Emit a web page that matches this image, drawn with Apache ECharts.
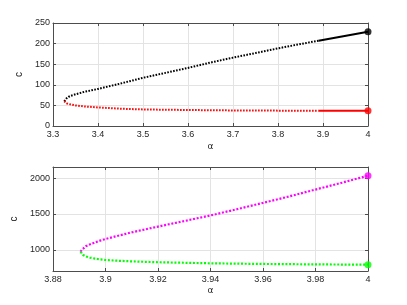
<!DOCTYPE html>
<html><head><meta charset="utf-8">
<script src="https://cdn.jsdelivr.net/npm/echarts@6/dist/echarts.min.js"></script>
<style>html,body{margin:0;padding:0;background:#fff}#c{width:407px;height:305px}</style>
</head><body><div id="c"></div>
<script>
// ---- data ----
// top panel, upper branch (black), dotted part
const topUpperAlpha = [3.325, 3.327, 3.33, 3.335, 3.34, 3.35, 3.37, 3.4, 3.45, 3.5, 3.55, 3.6, 3.65, 3.7, 3.75, 3.8, 3.85, 3.89];
const topUpperC     = [60, 64, 67, 71, 73.5, 77, 83, 90, 103, 117, 129, 141, 154, 166, 177, 188.5, 199, 207];
// top panel, lower branch (red), dotted part
const topLowerAlpha = [3.325, 3.327, 3.33, 3.34, 3.35, 3.37, 3.4, 3.45, 3.5, 3.6, 3.7, 3.8, 3.89];
const topLowerC     = [60, 56.5, 55, 52, 50, 47.5, 45, 42, 40.2, 38.8, 37.8, 37.3, 37.1];
// top panel, solid segments
const topSolidAlpha = [3.89, 3.945, 4];
const topSolidUpperC = [207, 218, 228.5];
const topSolidLowerC = [37.1, 37.0, 37.0];
// bottom panel, upper branch (magenta)
const botUpperAlpha = [3.8905, 3.891, 3.8915, 3.8925, 3.894, 3.896, 3.898, 3.9, 3.904, 3.91, 3.92, 3.93, 3.94, 3.95, 3.96, 3.97, 3.98, 3.99, 4];
const botUpperC     = [975, 1003, 1025, 1050, 1076, 1105, 1130, 1152, 1190, 1245, 1325, 1402, 1480, 1566, 1655, 1745, 1840, 1935, 2033];
// bottom panel, lower branch (green)
const botLowerAlpha = [3.8905, 3.891, 3.8915, 3.8925, 3.894, 3.896, 3.898, 3.9, 3.905, 3.91, 3.92, 3.94, 3.96, 3.98, 4];
const botLowerC     = [975, 950, 930, 910, 894, 879, 868, 860, 849, 841, 829, 814, 805, 799, 795];
// ticks
const topXTicks = {min: 3.3, max: 4, interval: 0.1};
const topYTicks = {min: 0, max: 250, interval: 50};
const botXTicks = {min: 3.88, max: 4, interval: 0.02};
const botYRange = {min: 707, max: 2154};
const botYTickValues = [1000, 1500, 2000];

const zip = (a, b) => a.map((v, i) => [v, b[i]]);
const last = (a, b) => [[a[a.length - 1], b[b.length - 1]]];

const FONT = 'Liberation Sans, Arial, sans-serif';
const AX = '#4d4d4d', TXT = '#262626', GRID = '#e3e3e3';

function xAxis(gi, t, primary, gap) {
  return {
    type: 'value', gridIndex: gi, min: t.min, max: t.max, interval: t.interval,
    position: primary ? 'bottom' : 'top',
    name: primary ? 'α' : '', nameLocation: 'middle', nameGap: gap,
    nameTextStyle: {fontFamily: 'DejaVu Sans', fontSize: 9, color: TXT},
    axisLine: {show: true, onZero: false, lineStyle: {color: AX, width: 1}},
    axisTick: {show: true, inside: true, length: 3, lineStyle: {color: AX}},
    axisLabel: {show: primary, fontFamily: FONT, fontSize: 9, color: TXT, margin: 4},
    splitLine: {show: primary, lineStyle: {color: GRID, width: 1}}
  };
}
function yAxis(gi, t, primary, gap, custom) {
  const ax = {
    type: 'value', gridIndex: gi, min: t.min, max: t.max,
    position: primary ? 'left' : 'right',
    name: primary ? 'c' : '', nameLocation: 'middle', nameGap: gap, nameRotate: 90,
    nameTextStyle: {fontFamily: FONT, fontSize: 10, color: TXT},
    axisLine: {show: true, onZero: false, lineStyle: {color: AX, width: 1}},
    axisTick: {show: true, inside: true, length: 3, lineStyle: {color: AX}},
    axisLabel: {show: primary, fontFamily: FONT, fontSize: 9, color: TXT, margin: 3,
      formatter: v => String(Math.round(v))},
    splitLine: {show: primary, lineStyle: {color: GRID, width: 1}}
  };
  if (custom) {
    ax.axisTick.customValues = custom;
    ax.axisLabel.customValues = custom;
  } else {
    ax.interval = t.interval;
  }
  return ax;
}

function dotted(name, xi, yi, data, color, w, dash) {
  return {type: 'line', name, xAxisIndex: xi, yAxisIndex: yi, data, showSymbol: false, symbol: 'none',
    lineStyle: {color, width: w, type: dash}, z: 3, animation: false};
}
function solid(name, xi, yi, data, color) {
  return {type: 'line', name, xAxisIndex: xi, yAxisIndex: yi, data, showSymbol: false, symbol: 'none',
    lineStyle: {color, width: 2}, z: 4, animation: false};
}
function endDot(name, xi, yi, data, color) {
  return {type: 'scatter', name, xAxisIndex: xi, yAxisIndex: yi, data, symbolSize: 7,
    itemStyle: {color}, z: 5, animation: false};
}

const chart = echarts.init(document.getElementById('c'), null, {renderer: 'canvas'});
chart.setOption({
  animation: false,
  backgroundColor: '#fff',
  grid: [
    {left: 53, right: 39, top: 23, height: 103, containLabel: false},
    {left: 53, right: 39, top: 167, height: 104, containLabel: false}
  ],
  xAxis: [
    xAxis(0, topXTicks, true, 16),
    xAxis(0, topXTicks, false, 0),
    xAxis(1, botXTicks, true, 15),
    xAxis(1, botXTicks, false, 0)
  ],
  yAxis: [
    yAxis(0, topYTicks, true, 20),
    yAxis(0, topYTicks, false, 0),
    yAxis(1, botYRange, true, 28, botYTickValues),
    yAxis(1, botYRange, false, 0, botYTickValues)
  ],
  series: [
    dotted('upper', 0, 0, zip(topUpperAlpha, topUpperC), '#000000', 2, [1.6, 1.4]),
    dotted('lower', 0, 0, zip(topLowerAlpha, topLowerC), '#ff0000', 2, [1.6, 1.4]),
    solid('upperSolid', 0, 0, zip(topSolidAlpha, topSolidUpperC), '#000000'),
    solid('lowerSolid', 0, 0, zip(topSolidAlpha, topSolidLowerC), '#ff0000'),
    endDot('upperEnd', 0, 0, last(topSolidAlpha, topSolidUpperC), '#000000'),
    endDot('lowerEnd', 0, 0, last(topSolidAlpha, topSolidLowerC), '#ff0000'),
    dotted('bUpper', 2, 2, zip(botUpperAlpha, botUpperC), '#ff00ff', 2.2, [2, 1.7]),
    dotted('bLower', 2, 2, zip(botLowerAlpha, botLowerC), '#00ff00', 2.2, [2, 1.7]),
    endDot('bUpperEnd', 2, 2, last(botUpperAlpha, botUpperC), '#ff00ff'),
    endDot('bLowerEnd', 2, 2, last(botLowerAlpha, botLowerC), '#00ff00')
  ]
});
</script></body></html>
